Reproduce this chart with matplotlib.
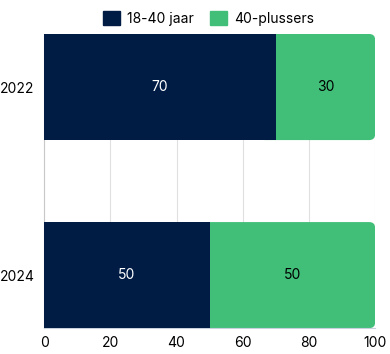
import matplotlib
matplotlib.use("Agg")
import matplotlib.pyplot as plt
from matplotlib.patches import FancyBboxPatch, Patch

plt.rcParams['font.family'] = ['Inter', 'DejaVu Sans']

years = ['2022', '2024']
young = [70, 50]
older = [30, 50]
series_names = ['18-40 jaar', '40-plussers']
navy = '#001c45'
green = '#41bf79'

fig = plt.figure(figsize=(3.9, 3.54), dpi=100)
ax = fig.add_axes([0.113, 0.073, 0.849, 0.831])

ypos = list(range(len(years)))
h = 0.564

# green segments: rounded on the right end, tucked under the navy bar on the left
r = 1.8
asp = (0.032) / r
for y, a, b in zip(ypos, young, older):
    p = FancyBboxPatch((a - 5, y - h / 2), b + 5, h,
                       boxstyle=f"round,pad=0,rounding_size={r}",
                       mutation_aspect=asp, fc=green, ec='none', zorder=2)
    ax.add_patch(p)

ax.barh(ypos, young, height=h, color=navy, zorder=3)

for y, a, b in zip(ypos, young, older):
    ax.text(a / 2, y, str(a), color='white', ha='center', va='center', fontsize=10, zorder=4)
    ax.text(a + b / 2, y, str(b), color='black', ha='center', va='center', fontsize=10, zorder=4)

ax.set_xlim(0, 100)
ax.set_ylim(1 + h / 2, -h / 2)
ax.set_yticks(ypos)
ax.set_yticklabels(years, fontsize=10)
ax.set_xticks([0, 20, 40, 60, 80, 100])
ax.tick_params(length=0, labelsize=10, colors='black')
ax.tick_params(axis='x', pad=6)
ax.tick_params(axis='y', pad=7)
ax.grid(axis='x', color='#e0e0e0', linewidth=0.8, zorder=0)
ax.set_axisbelow(True)
for s in ['top', 'right']:
    ax.spines[s].set_visible(False)
ax.spines['left'].set_color('#c8c8c8')
ax.spines['bottom'].set_color('#c8d0dc')

handles = [Patch(color=navy), Patch(color=green)]
fig.legend(handles, series_names, loc='upper center', bbox_to_anchor=(0.535, 1.005),
           ncol=2, frameon=False, fontsize=10, handlelength=1.2, handleheight=1.2,
           handletextpad=0.5, columnspacing=1.2)

fig.savefig('out.png', dpi=100)
